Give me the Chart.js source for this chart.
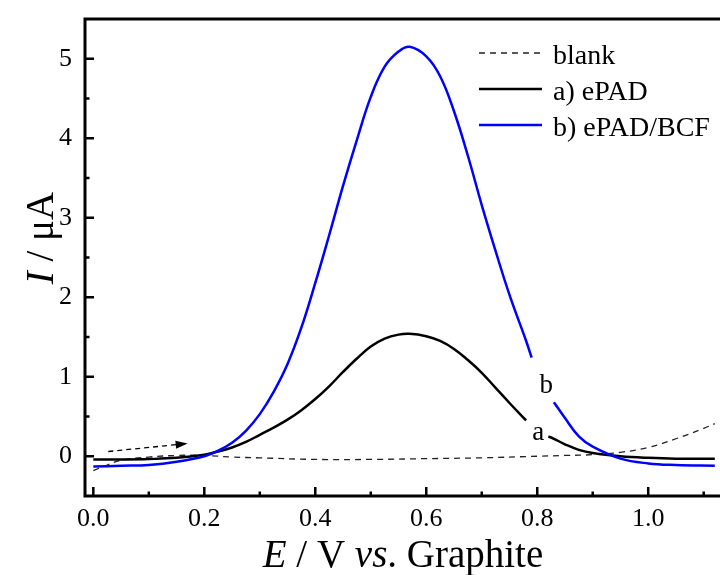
<!DOCTYPE html>
<html>
<head>
<meta charset="utf-8">
<script src="https://cdn.jsdelivr.net/npm/chart.js@4.4.1/dist/chart.umd.min.js"></script>
<style>
  html, body { margin: 0; padding: 0; background: #fff; overflow: hidden; }
  #wrap { width: 720px; height: 575px; overflow: hidden; }
</style>
</head>
<body>
<div id="wrap"><canvas id="cv" width="740" height="575"></canvas></div>
<script>
// potential grid (V) shared by curves a and b
const potential = [0, 0.05, 0.10, 0.15, 0.20, 0.225, 0.25, 0.275, 0.30, 0.325, 0.35, 0.375, 0.40, 0.425,
  0.45, 0.475, 0.50, 0.525, 0.55, 0.57, 0.60, 0.625, 0.65, 0.675, 0.70, 0.725, 0.75, 0.78, 0.79, 0.80,
  0.82, 0.83, 0.85, 0.875, 0.90, 0.95, 1.00, 1.05, 1.12];
// current (uA); null = gap where the letter sits on the curve
const ePadBcfCurrent = [-0.13, -0.12, -0.11, -0.07, 0.00, 0.07, 0.17, 0.32, 0.53, 0.81, 1.16, 1.62, 2.18,
  2.78, 3.40, 3.98, 4.52, 4.90, 5.09, 5.15, 5.03, 4.78, 4.34, 3.78, 3.16, 2.58, 2.03, 1.45, 1.24, null,
  null, 0.68, 0.48, 0.25, 0.12, -0.03, -0.09, -0.11, -0.12];
const ePadCurrent = [-0.04, -0.04, -0.035, -0.02, 0.02, 0.06, 0.11, 0.18, 0.27, 0.36, 0.46, 0.58, 0.72,
  0.88, 1.06, 1.23, 1.38, 1.48, 1.53, 1.54, 1.51, 1.45, 1.35, 1.21, 1.05, 0.86, 0.67, 0.45, null, null,
  0.25, 0.22, 0.15, 0.08, 0.04, 0.00, -0.02, -0.03, -0.03];
const blankPotential = [0, 0.025, 0.05, 0.10, 0.15, 0.20, 0.25, 0.30, 0.40, 0.50, 0.60, 0.70, 0.80,
  0.85, 0.90, 0.95, 1.00, 1.05, 1.10, 1.12];
const blankCurrent = [-0.18, -0.11, -0.05, -0.01, 0.01, 0.01, -0.01, -0.02, -0.04, -0.04, -0.03, -0.02, 0.00,
  0.01, 0.02, 0.05, 0.11, 0.22, 0.35, 0.41];

const seriesLabels = ['blank', 'a) ePAD', 'b) ePAD/BCF'];
const xTicks = [0, 0.2, 0.4, 0.6, 0.8, 1.0];
const xMinorTicks = [0.1, 0.3, 0.5, 0.7, 0.9, 1.1];
const yTicks = [0, 1, 2, 3, 4, 5];
const yMinorTicks = [0.5, 1.5, 2.5, 3.5, 4.5];

// scan direction arrow and curve letters, in data units
const arrowFrom = [0.027, 0.06];
const arrowTo = [0.17, 0.16];
const curveTags = [['a', 0.791, 0.21], ['b', 0.804, 0.80]];

const SERIF = '"Liberation Serif", "Times New Roman", serif';

function pts(xs, ys) {
  return xs.map((x, i) => ({ x: x, y: ys[i] }));
}

function drawMixed(ctx, parts, x, y, size) {
  // parts: [text, italic], drawn centred on x
  let total = 0;
  parts.forEach(p => {
    ctx.font = (p[1] ? 'italic ' : '') + size + 'px ' + SERIF;
    total += ctx.measureText(p[0]).width;
  });
  let cx = x - total / 2;
  ctx.textAlign = 'left';
  parts.forEach(p => {
    ctx.font = (p[1] ? 'italic ' : '') + size + 'px ' + SERIF;
    ctx.fillText(p[0], cx, y);
    cx += ctx.measureText(p[0]).width;
  });
}

const decorations = {
  id: 'decorations',
  afterDraw(chart) {
    const ctx = chart.ctx;
    const a = chart.chartArea;
    const xs = chart.scales.x, ys = chart.scales.y;
    ctx.save();

    // frame
    ctx.strokeStyle = '#000';
    ctx.lineWidth = 3;
    ctx.strokeRect(a.left, a.top, a.right - a.left, a.bottom - a.top);

    // inward ticks
    ctx.lineWidth = 2.5;
    ctx.beginPath();
    xTicks.forEach(v => { const p = xs.getPixelForValue(v); ctx.moveTo(p, a.bottom); ctx.lineTo(p, a.bottom - 9); });
    xMinorTicks.forEach(v => { const p = xs.getPixelForValue(v); ctx.moveTo(p, a.bottom); ctx.lineTo(p, a.bottom - 4.5); });
    yTicks.forEach(v => { const p = ys.getPixelForValue(v); ctx.moveTo(a.left, p); ctx.lineTo(a.left + 9, p); });
    yMinorTicks.forEach(v => { const p = ys.getPixelForValue(v); ctx.moveTo(a.left, p); ctx.lineTo(a.left + 4.5, p); });
    ctx.stroke();

    // arrow
    const x1 = xs.getPixelForValue(arrowFrom[0]), y1 = ys.getPixelForValue(arrowFrom[1]);
    const x2 = xs.getPixelForValue(arrowTo[0]), y2 = ys.getPixelForValue(arrowTo[1]);
    const ang = Math.atan2(y2 - y1, x2 - x1);
    ctx.lineWidth = 1.3;
    ctx.setLineDash([5, 4]);
    ctx.beginPath();
    ctx.moveTo(x1, y1);
    ctx.lineTo(x2 - 10 * Math.cos(ang), y2 - 10 * Math.sin(ang));
    ctx.stroke();
    ctx.setLineDash([]);
    ctx.fillStyle = '#000';
    ctx.beginPath();
    ctx.moveTo(x2, y2);
    ctx.lineTo(x2 - 12 * Math.cos(ang) + 4 * Math.sin(ang), y2 - 12 * Math.sin(ang) - 4 * Math.cos(ang));
    ctx.lineTo(x2 - 12 * Math.cos(ang) - 4 * Math.sin(ang), y2 - 12 * Math.sin(ang) + 4 * Math.cos(ang));
    ctx.closePath();
    ctx.fill();

    // letters on the curves
    ctx.font = '27px ' + SERIF;
    ctx.textAlign = 'left';
    ctx.textBaseline = 'alphabetic';
    curveTags.forEach(t => ctx.fillText(t[0], xs.getPixelForValue(t[1]), ys.getPixelForValue(t[2])));

    // legend
    chart.data.datasets.forEach((ds, i) => {
      const ly = 53 + i * 36;
      ctx.strokeStyle = ds.borderColor;
      ctx.lineWidth = ds.borderWidth;
      ctx.setLineDash(ds.borderDash || []);
      ctx.beginPath();
      ctx.moveTo(479, ly);
      ctx.lineTo(542, ly);
      ctx.stroke();
      ctx.setLineDash([]);
      ctx.fillStyle = '#000';
      ctx.font = '28px ' + SERIF;
      ctx.fillText(ds.label, 553, ly + 10.5);
    });

    // axis titles
    ctx.fillStyle = '#000';
    ctx.textBaseline = 'alphabetic';
    drawMixed(ctx, [['E', true], [' / V ', false], ['vs', true], ['. Graphite', false]], 403, 567, 39);
    ctx.save();
    ctx.translate(53, 238);
    ctx.rotate(-Math.PI / 2);
    drawMixed(ctx, [['I', true], [' / \u03bcA', false]], 0, 0, 39);
    ctx.restore();

    ctx.restore();
  }
};

function noOverflow(s) {
  s.paddingTop = 0; s.paddingBottom = 0; s.paddingLeft = 0; s.paddingRight = 0;
}

new Chart(document.getElementById('cv'), {
  type: 'line',
  data: {
    datasets: [
      { label: seriesLabels[0], data: pts(blankPotential, blankCurrent), borderColor: '#222', borderWidth: 1.3,
        borderDash: [6, 5], order: 3 },
      { label: seriesLabels[1], data: pts(potential, ePadCurrent), borderColor: '#000', borderWidth: 2.5, order: 2 },
      { label: seriesLabels[2], data: pts(potential, ePadBcfCurrent), borderColor: '#0000ff', borderWidth: 2.5, order: 1 }
    ]
  },
  options: {
    responsive: false,
    animation: false,
    devicePixelRatio: 1,
    spanGaps: false,
    elements: { point: { radius: 0 }, line: { tension: 0.4 } },
    layout: { padding: { top: 19, left: 0, right: 3, bottom: 0 } },
    plugins: { legend: { display: false }, tooltip: { enabled: false } },
    scales: {
      x: {
        type: 'linear', min: -0.015, max: 1.16,
        grid: { display: false, drawTicks: false }, border: { display: false },
        afterBuildTicks: s => { s.ticks = xTicks.map(v => ({ value: v })); },
        afterFit: s => { s.height = 79; noOverflow(s); },
        ticks: { padding: 8, color: '#000', font: { family: SERIF, size: 26 }, maxRotation: 0,
          callback: v => v.toFixed(1) }
      },
      y: {
        type: 'linear', min: -0.5, max: 5.5,
        grid: { display: false, drawTicks: false }, border: { display: false },
        afterBuildTicks: s => { s.ticks = yTicks.map(v => ({ value: v })); },
        afterFit: s => { s.width = 85; noOverflow(s); },
        ticks: { padding: 13, color: '#000', font: { family: SERIF, size: 26 }, callback: v => String(v) }
      }
    }
  },
  plugins: [decorations]
});
</script>
</body>
</html>
